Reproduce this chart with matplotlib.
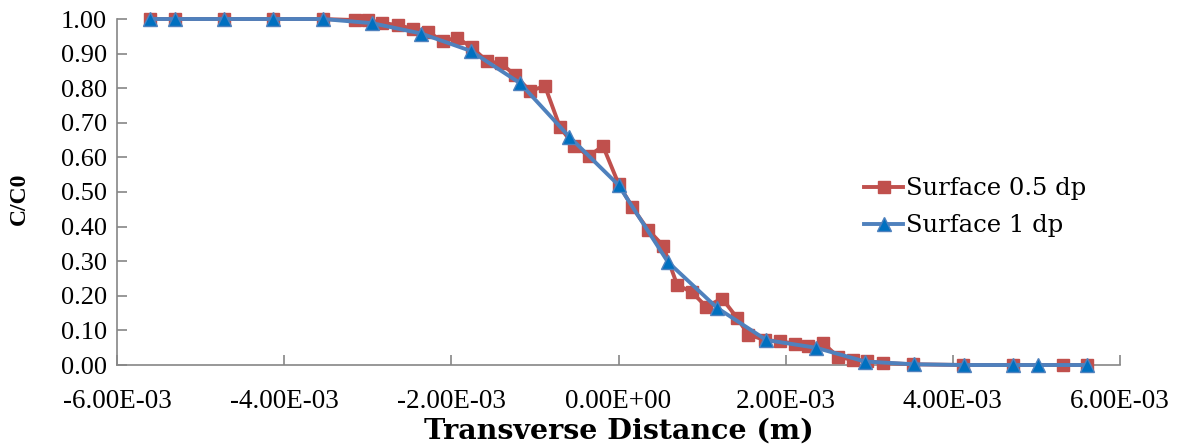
import matplotlib
matplotlib.use("Agg")
import matplotlib.pyplot as plt
from matplotlib.ticker import FixedLocator, FuncFormatter

# Data (x in metres)
x_half = [-5.611e-3, -5.311e-3, -4.725e-3, -4.138e-3, -3.539e-3, -3.156e-3, -3.000e-3,
          -2.832e-3, -2.641e-3, -2.461e-3, -2.281e-3, -2.102e-3, -1.934e-3, -1.754e-3,
          -1.575e-3, -1.407e-3, -1.240e-3, -1.060e-3, -0.880e-3, -0.701e-3, -0.533e-3,
          -0.353e-3, -0.186e-3, 0.0, 0.162e-3, 0.353e-3, 0.533e-3, 0.701e-3, 0.880e-3,
          1.048e-3, 1.240e-3, 1.419e-3, 1.551e-3, 1.754e-3, 1.934e-3, 2.114e-3, 2.269e-3,
          2.449e-3, 2.629e-3, 2.808e-3, 2.976e-3, 3.168e-3, 3.527e-3, 4.126e-3, 4.725e-3,
          5.323e-3, 5.611e-3]
y_half = [1.0, 1.0, 1.0, 1.0, 1.0, 0.997, 0.998, 0.989, 0.982, 0.972, 0.963, 0.936,
          0.946, 0.918, 0.878, 0.872, 0.838, 0.792, 0.806, 0.688, 0.634, 0.604, 0.633,
          0.524, 0.457, 0.391, 0.345, 0.232, 0.210, 0.169, 0.192, 0.136, 0.088, 0.072,
          0.068, 0.062, 0.055, 0.063, 0.023, 0.015, 0.011, 0.006, 0.002, 0.0, 0.0, 0.0, 0.0]

x_one = [-5.61e-3, -5.31e-3, -4.72e-3, -4.13e-3, -3.54e-3, -2.95e-3, -2.36e-3, -1.77e-3,
         -1.18e-3, -0.59e-3, 0.0, 0.59e-3, 1.18e-3, 1.77e-3, 2.36e-3, 2.95e-3, 3.54e-3,
         4.13e-3, 4.72e-3, 5.02e-3, 5.61e-3]
y_one = [1.0, 1.0, 1.0, 1.0, 1.0, 0.988, 0.958, 0.908, 0.815, 0.660, 0.520, 0.298,
         0.165, 0.072, 0.050, 0.010, 0.002, 0.0, 0.0, 0.0, 0.0]

x_ticks = [-6e-3, -4e-3, -2e-3, 0.0, 2e-3, 4e-3, 6e-3]
x_tick_labels = ["-6.00E-03", "-4.00E-03", "-2.00E-03", "0.00E+00", "2.00E-03", "4.00E-03", "6.00E-03"]
y_ticks = [0.0, 0.1, 0.2, 0.3, 0.4, 0.5, 0.6, 0.7, 0.8, 0.9, 1.0]

plt.rcParams['font.family'] = ['Liberation Serif', 'DejaVu Serif']

fig = plt.figure(figsize=(11.81, 4.45), dpi=100)
ax = fig.add_axes([117/1181, 80/445, (1120-117)/1181, (365-19)/445])

red = '#C0504D'
blue_line = '#4F81BD'
blue_mark = '#0070C0'

ax.plot(x_half, y_half, color=red, lw=2.8, marker='s', markersize=9,
        markerfacecolor=red, markeredgecolor=red, label='Surface 0.5 dp',
        clip_on=False, zorder=3)
ax.plot(x_one, y_one, color=blue_line, lw=2.8, marker='^', markersize=10.5,
        markerfacecolor=blue_mark, markeredgecolor=blue_line, markeredgewidth=1,
        label='Surface 1 dp', clip_on=False, zorder=4)

ax.set_xlim(-6e-3, 6e-3)
ax.set_ylim(0, 1.0)
ax.xaxis.set_major_locator(FixedLocator(x_ticks))
ax.set_xticklabels(x_tick_labels)
ax.yaxis.set_major_locator(FixedLocator(y_ticks))
ax.yaxis.set_major_formatter(FuncFormatter(lambda v, p: f"{v:.2f}"))

for s in ['top', 'right']:
    ax.spines[s].set_visible(False)
for s in ['left', 'bottom']:
    ax.spines[s].set_color('#868686')
    ax.spines[s].set_linewidth(1.2)

ax.tick_params(axis='x', direction='in', length=7, color='#868686', width=1.2,
               labelsize=19.5, pad=17)
ax.tick_params(axis='y', direction='in', length=7, color='#868686', width=1.2,
               labelsize=19, pad=7)

ax.set_xlabel('Transverse Distance (m)', fontsize=20.5, fontweight='bold',
              family=['DejaVu Serif'])
ax.xaxis.set_label_coords(0.5, (365 - 431) / 346)
ax.xaxis.label.set_va('center')
ax.set_ylabel('C/C0', fontsize=17, fontweight='bold', family=['Liberation Serif'])
ax.yaxis.set_label_coords((19 - 117) / 1003, (365 - 199) / 346)
ax.yaxis.label.set_va('center')

leg = ax.legend(loc='upper left', bbox_to_anchor=(0.745, 0.543), frameon=False,
                prop={'family': 'DejaVu Serif', 'size': 17.5},
                handlelength=1.6, handletextpad=0.12, labelspacing=0.58,
                borderaxespad=0, borderpad=0)

fig.savefig('out.png', dpi=100)
